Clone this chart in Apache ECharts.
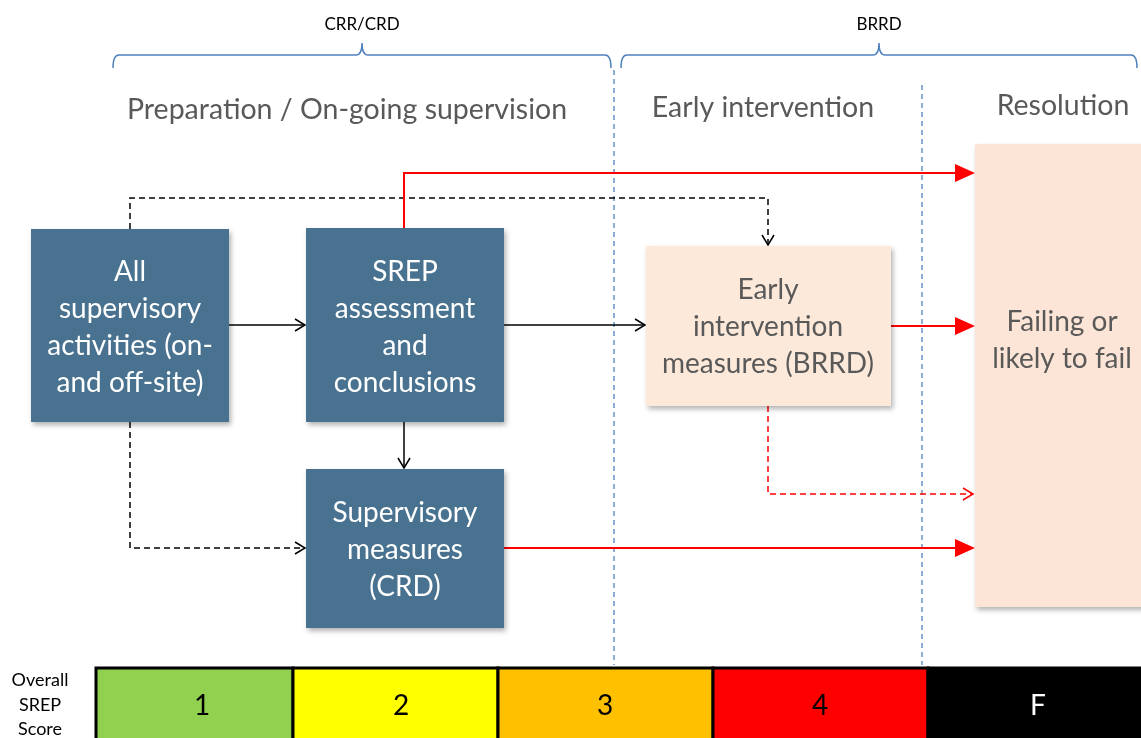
<!DOCTYPE html>
<html>
<head>
<meta charset="utf-8">
<script src="https://cdn.jsdelivr.net/npm/echarts@6/dist/echarts.min.js"></script>
<style>html,body{margin:0;padding:0;background:#fff}#c{width:1141px;height:738px}</style>
</head>
<body>
<div id="c"></div>
<script>
// ---- data (diagram units: x 0..1141, y 0..738 top-down) ----
const frameworkNames = ['CRR/CRD', 'BRRD'];
const frameworkSpans = [[113, 611], [621, 1137]];
const phaseTitles = ['Preparation / On-going supervision', 'Early intervention', 'Resolution'];
const phaseCenters = [[347, 110], [763, 108], [1063, 106]];
const dividerX = [614, 922];
const dividerTop = [70, 85];
const dividerBottom = [665, 665];

const boxLabels = [
  'All\nsupervisory\nactivities (on-\nand off-site)',
  'SREP\nassessment\nand\nconclusions',
  'Supervisory\nmeasures\n(CRD)',
  'Early\nintervention\nmeasures (BRRD)',
  'Failing or\nlikely to fail'
];
const boxExtents = [
  [31, 229, 229, 422],
  [306, 228, 504, 422],
  [306, 469, 504, 628],
  [646, 246, 891, 406],
  [975, 144, 1150, 607]
];
const boxLabelCenters = [[130, 327], [405, 327], [405, 550], [768, 327], [1062, 340]];
const boxGroup = ['ssm', 'ssm', 'ssm', 'early', 'resolution'];

const connectorPaths = [
  [[229, 325], [305, 325]],
  [[504, 325], [645, 325]],
  [[404, 422], [404, 468]],
  [[130, 229], [130, 198], [768, 198], [768, 245]],
  [[130, 422], [130, 548], [305, 548]],
  [[404, 228], [404, 173], [975, 173]],
  [[891, 326], [975, 326]],
  [[504, 548], [975, 548]],
  [[768, 406], [768, 494], [973, 494]]
];
const connectorKinds = ['solid', 'solid', 'solid', 'dashed', 'dashed', 'red', 'red', 'red', 'redDashed'];

const scoreTitle = 'Overall\nSREP\nScore';
const scoreLabels = ['1', '2', '3', '4', 'F'];
const scoreEdges = [96, 293, 498, 713, 928, 1145];
const scoreLabelX = [202, 401, 605, 820, 1038];
const scoreBand = [668, 745];

// ---- styles ----
const FONT = 'Lato, "Open Sans", sans-serif';
const boxStyle = {
  ssm: { fill: '#48728F', color: '#ffffff' },
  early: { fill: '#FCE9DA', color: '#595959' },
  resolution: { fill: '#FCE5D6', color: '#595959' }
};
const connStyle = {
  solid: { stroke: '#000', width: 1.5, dash: null, head: 'open' },
  dashed: { stroke: '#000', width: 1.5, dash: [6, 4], head: 'open' },
  red: { stroke: '#FF0000', width: 2, dash: null, head: 'filled' },
  redDashed: { stroke: '#FF0000', width: 1.5, dash: [6, 4], head: 'open' }
};
const scoreColors = ['#92D050', '#FFFF00', '#FFC000', '#FF0000', '#000000'];
const scoreTextColors = ['#000', '#000', '#000', '#000', '#fff'];

const chart = echarts.init(document.getElementById('c'));

function renderFramework(params, api) {
  const i = api.value(0);
  const a = api.coord([api.value(1), 68]);
  const b = api.coord([api.value(2), 68]);
  const y = api.coord([0, 55])[1];
  const peak = api.coord([0, 43])[1];
  const mid = (a[0] + b[0]) / 2;
  const d = `M${a[0]},${a[1]} Q${a[0]},${y} ${a[0] + 6},${y} L${mid - 6},${y} Q${mid},${y} ${mid},${peak} Q${mid},${y} ${mid + 6},${y} L${b[0] - 6},${y} Q${b[0]},${y} ${b[0]},${a[1]}`;
  const t = api.coord([0, 25]);
  return {
    type: 'group', children: [
      { type: 'path', shape: { pathData: d }, style: { fill: 'none', stroke: '#4F81BD', lineWidth: 1.5 } },
      { type: 'text', style: { text: frameworkNames[i], x: mid, y: t[1], align: 'center', verticalAlign: 'middle', font: '17px ' + FONT, fill: '#000' } }
    ]
  };
}

function renderPhase(params, api) {
  const i = api.value(2);
  const p = api.coord([api.value(0), api.value(1)]);
  return { type: 'text', style: { text: phaseTitles[i], x: p[0], y: p[1], align: 'center', verticalAlign: 'middle', font: '28.5px ' + FONT, fill: '#595959' } };
}

function renderDivider(params, api) {
  const a = api.coord([api.value(0), api.value(1)]);
  const b = api.coord([api.value(0), api.value(2)]);
  return { type: 'line', shape: { x1: a[0], y1: a[1], x2: b[0], y2: b[1] }, style: { stroke: '#4F81BD', lineWidth: 1.3, lineDash: [5, 4] } };
}

function renderBox(params, api) {
  const i = api.value(4);
  const p0 = api.coord([api.value(0), api.value(1)]);
  const p1 = api.coord([api.value(2), api.value(3)]);
  const c = api.coord(boxLabelCenters[i]);
  const st = boxStyle[boxGroup[i]];
  return {
    type: 'group', children: [
      { type: 'rect', shape: { x: p0[0], y: p0[1], width: p1[0] - p0[0], height: p1[1] - p0[1] },
        style: { fill: st.fill, shadowBlur: 5, shadowOffsetX: 2, shadowOffsetY: 3, shadowColor: 'rgba(0,0,0,0.3)' } },
      { type: 'text', style: { text: boxLabels[i], x: c[0], y: c[1], align: 'center', verticalAlign: 'middle', font: '28px ' + FONT, fill: st.color, lineHeight: 37 } }
    ]
  };
}

function renderConnector(params, api) {
  const i = api.value(0);
  const pts = connectorPaths[i].map(p => api.coord(p));
  const st = connStyle[connectorKinds[i]];
  const n = pts.length;
  const end = pts[n - 1], prev = pts[n - 2];
  const dx = end[0] - prev[0], dy = end[1] - prev[1];
  const len = Math.sqrt(dx * dx + dy * dy);
  const ux = dx / len, uy = dy / len;
  const nx = -uy, ny = ux;
  const children = [];
  let linePts = pts.slice();
  if (st.head === 'filled') {
    const L = 20, W = 9;
    const base = [end[0] - ux * L, end[1] - uy * L];
    linePts[n - 1] = base;
    children.push({ type: 'polyline', shape: { points: linePts }, style: { fill: 'none', stroke: st.stroke, lineWidth: st.width, lineDash: st.dash } });
    children.push({ type: 'polygon', shape: { points: [end, [base[0] + nx * W, base[1] + ny * W], [base[0] - nx * W, base[1] - ny * W]] }, style: { fill: st.stroke } });
  } else {
    const L = 10, W = 6;
    const base = [end[0] - ux * L, end[1] - uy * L];
    children.push({ type: 'polyline', shape: { points: linePts }, style: { fill: 'none', stroke: st.stroke, lineWidth: st.width, lineDash: st.dash } });
    children.push({ type: 'polyline', shape: { points: [[base[0] + nx * W, base[1] + ny * W], end, [base[0] - nx * W, base[1] - ny * W]] }, style: { fill: 'none', stroke: st.stroke, lineWidth: 1.5 } });
  }
  return { type: 'group', children };
}

function renderScore(params, api) {
  const i = api.value(2);
  const p0 = api.coord([api.value(0), scoreBand[0]]);
  const p1 = api.coord([api.value(1), scoreBand[1]]);
  const t = api.coord([scoreLabelX[i], 706]);
  return {
    type: 'group', children: [
      { type: 'rect', shape: { x: p0[0], y: p0[1], width: p1[0] - p0[0], height: p1[1] - p0[1] }, style: { fill: scoreColors[i], stroke: '#000', lineWidth: 3 } },
      { type: 'text', style: { text: scoreLabels[i], x: t[0], y: t[1], align: 'center', verticalAlign: 'middle', font: '28px ' + FONT, fill: scoreTextColors[i] } }
    ]
  };
}

function renderScoreTitle(params, api) {
  const p = api.coord([api.value(0), api.value(1)]);
  return { type: 'text', style: { text: scoreTitle, x: p[0], y: p[1], align: 'center', verticalAlign: 'middle', font: '18px ' + FONT, fill: '#000', lineHeight: 24.5 } };
}

chart.setOption({
  animation: false,
  grid: { left: 0, right: 0, top: 0, bottom: 0 },
  xAxis: { type: 'value', min: 0, max: 1141, show: false },
  yAxis: { type: 'value', min: 0, max: 738, inverse: true, show: false },
  series: [
    { type: 'custom', renderItem: renderDivider, data: dividerX.map((x, i) => [x, dividerTop[i], dividerBottom[i]]), z: 1 },
    { type: 'custom', renderItem: renderFramework, data: frameworkSpans.map((s, i) => [i, s[0], s[1]]), z: 2 },
    { type: 'custom', renderItem: renderPhase, data: phaseCenters.map((c, i) => [c[0], c[1], i]), z: 2 },
    { type: 'custom', renderItem: renderConnector, data: connectorPaths.map((p, i) => [i]), z: 3 },
    { type: 'custom', renderItem: renderBox, data: boxExtents.map((e, i) => [e[0], e[1], e[2], e[3], i]), z: 4 },
    { type: 'custom', renderItem: renderScore, data: scoreLabels.map((s, i) => [scoreEdges[i], scoreEdges[i + 1], i]), z: 5 },
    { type: 'custom', renderItem: renderScoreTitle, data: [[40, 705]], z: 5 }
  ]
});
</script>
</body>
</html>
